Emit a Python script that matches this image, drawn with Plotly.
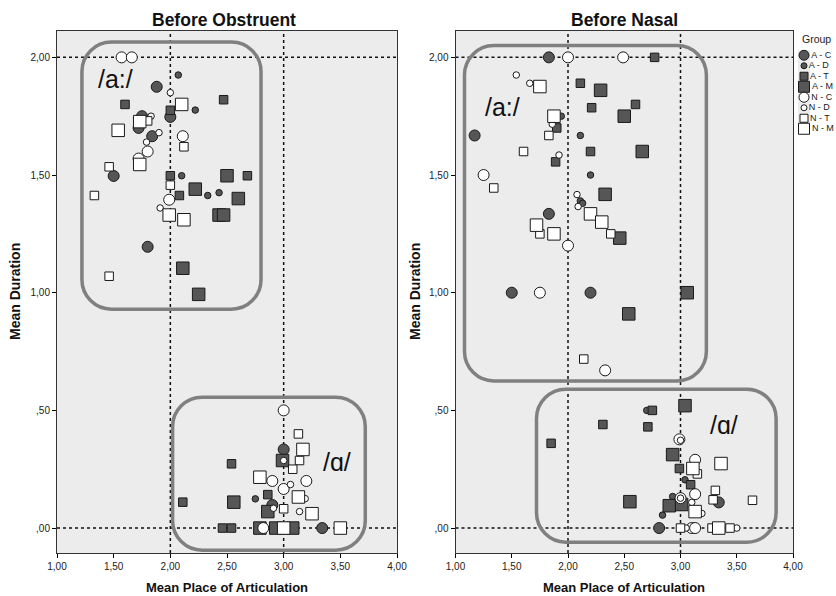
import plotly.graph_objects as go

# ---------------- data ----------------
groups = ["A - C", "A - D", "A - T", "A - M", "N - C", "N - D", "N - T", "N - M"]
x_tick_vals = [1.0, 1.5, 2.0, 2.5, 3.0, 3.5, 4.0]
x_tick_text = ["1,00", "1,50", "2,00", "2,50", "3,00", "3,50", "4,00"]
y_tick_vals = [0.0, 0.5, 1.0, 1.5, 2.0]
y_tick_text = [",00", ",50", "1,00", "1,50", "2,00"]

# Before Obstruent panel
obstruent_group = (
    ["A - C"] * 10 + ["A - D"] * 6 + ["A - T"] * 12 + ["A - M"] * 13
    + ["N - C"] * 11 + ["N - D"] * 10 + ["N - T"] * 10 + ["N - M"] * 12
)
obstruent_x = [
    1.88, 2.00, 1.75, 1.72, 1.84, 1.50, 1.80, 3.00, 2.90, 3.34,
    2.07, 2.22, 2.10, 2.33, 2.43, 2.75,
    1.60, 2.47, 2.00, 2.00, 2.68, 2.08, 2.54, 2.79, 2.11, 2.86, 2.46, 2.54,
    2.50, 2.22, 2.60, 2.43, 2.47, 2.11, 2.25, 2.99, 2.56, 2.86, 2.79, 2.93, 3.08,
    1.57, 1.66, 2.11, 1.80, 1.72, 1.99, 3.00, 2.90, 3.20, 3.00, 2.82,
    2.00, 1.83, 1.90, 1.79, 1.91, 3.00, 3.06, 3.19, 2.91, 3.14,
    1.80, 2.12, 1.46, 2.00, 1.33, 1.46, 3.13, 3.14, 3.08, 3.00,
    2.10, 1.73, 1.54, 1.73, 1.99, 2.12, 3.17, 2.79, 3.13, 3.25, 3.00, 3.50,
]
obstruent_y = [
    1.875, 1.747, 1.75, 1.70, 1.665, 1.496, 1.195, 0.334, 0.098, 0.0,
    1.925, 1.776, 1.497, 1.413, 1.425, 0.124,
    1.80, 1.82, 1.775, 1.497, 1.497, 1.413, 0.273, 0.22, 0.11, 0.142, 0.0, 0.0,
    1.497, 1.44, 1.40, 1.33, 1.33, 1.104, 0.993, 0.287, 0.11, 0.07, 0.0, 0.0, 0.0,
    2.00, 2.00, 1.665, 1.60, 1.57, 1.395, 0.50, 0.20, 0.20, 0.166, 0.0,
    1.85, 1.75, 1.68, 1.64, 1.36, 0.287, 0.185, 0.125, 0.084, 0.07,
    1.73, 1.62, 1.535, 1.457, 1.413, 1.07, 0.40, 0.287, 0.25, 0.082,
    1.80, 1.727, 1.69, 1.545, 1.33, 1.31, 0.334, 0.216, 0.132, 0.061, 0.0, 0.0,
]

# Before Nasal panel
nasal_group = (
    ["A - C"] * 7 + ["A - D"] * 9 + ["A - T"] * 13 + ["A - M"] * 12
    + ["N - C"] * 12 + ["N - D"] * 12 + ["N - T"] * 13 + ["N - M"] * 10
)
nasal_x = [
    1.83, 1.17, 1.83, 1.50, 2.20, 3.34, 2.81,
    1.94, 2.11, 2.20, 2.11, 2.13, 2.70, 3.04, 2.93, 2.84,
    2.77, 2.11, 2.21, 2.60, 1.90, 2.20, 1.89, 2.75, 2.31, 2.71, 1.85, 2.99, 3.09,
    2.29, 2.50, 2.66, 2.33, 2.46, 3.06, 2.54, 3.04, 2.93, 2.55, 2.90, 3.01,
    2.00, 2.49, 1.25, 2.00, 1.75, 2.33, 2.99, 3.13, 3.13, 3.00, 3.10, 3.13,
    1.54, 1.66, 1.86, 1.92, 2.08, 2.09, 3.00, 3.00, 3.10, 3.19, 3.50, 3.05,
    1.83, 1.605, 1.34, 1.75, 2.38, 2.14, 3.15, 3.31, 3.29, 3.64, 3.00, 3.28, 3.44,
    1.75, 1.875, 2.20, 2.30, 1.72, 1.875, 3.36, 3.11, 3.13, 3.34,
]
nasal_y = [
    2.00, 1.668, 1.335, 1.00, 1.00, 0.109, 0.0,
    1.75, 1.668, 1.50, 1.39, 1.38, 0.50, 0.205, 0.134, 0.055,
    2.00, 1.89, 1.786, 1.80, 1.70, 1.60, 1.556, 0.50, 0.44, 0.43, 0.36, 0.253, 0.184,
    1.86, 1.75, 1.60, 1.418, 1.232, 1.00, 0.91, 0.52, 0.312, 0.112, 0.095, 0.10,
    2.00, 2.00, 1.50, 1.20, 1.00, 0.67, 0.377, 0.29, 0.144, 0.127, 0.0, 0.0,
    1.925, 1.89, 1.716, 1.585, 1.417, 1.366, 0.373, 0.127, 0.109, 0.062, 0.0, 0.0,
    1.668, 1.60, 1.445, 1.25, 1.25, 0.718, 0.23, 0.16, 0.12, 0.118, 0.0, 0.0, 0.0,
    1.876, 1.75, 1.335, 1.30, 1.287, 1.25, 0.274, 0.253, 0.07, 0.0,
]

# ---------------- styles ----------------
DARK = "#565656"
styles = {
    "A - C": dict(symbol="circle", size=11, color=DARK),
    "A - D": dict(symbol="circle", size=6.5, color=DARK),
    "A - T": dict(symbol="square", size=8.5, color=DARK),
    "A - M": dict(symbol="square", size=12.5, color=DARK),
    "N - C": dict(symbol="circle", size=11, color="white"),
    "N - D": dict(symbol="circle", size=6.5, color="white"),
    "N - T": dict(symbol="square", size=8.5, color="white"),
    "N - M": dict(symbol="square", size=12.5, color="white"),
}
legend_sizes = {"A - C": 10, "A - D": 6, "A - T": 8, "A - M": 11,
                "N - C": 10, "N - D": 6, "N - T": 8, "N - M": 11}
FONT = "Liberation Sans Narrow, Arial Narrow, Liberation Sans, Arial, sans-serif"
BOLD_FONT = "Liberation Sans, Arial, sans-serif"

fig = go.Figure()

panels = [
    ("x", "y", obstruent_x, obstruent_y, obstruent_group),
    ("x2", "y2", nasal_x, nasal_y, nasal_group),
]
for xa, ya, xs, ys, gs in panels:
    for g in groups:
        px = [x for x, gg in zip(xs, gs) if gg == g]
        py = [y for y, gg in zip(ys, gs) if gg == g]
        st = styles[g]
        fig.add_trace(go.Scatter(
            x=px, y=py, xaxis=xa, yaxis=ya, mode="markers", name=g,
            showlegend=False, cliponaxis=False,
            marker=dict(symbol=st["symbol"], size=st["size"], color=st["color"],
                        line=dict(color="#1a1a1a", width=1)),
        ))

# manual legend (keys on a hidden categorical axis)
for g in groups:
    st = styles[g]
    fig.add_trace(go.Scatter(
        x=["key"], y=[g], xaxis="x3", yaxis="y3", mode="markers+text",
        text=[g], textposition="middle right", showlegend=False, cliponaxis=False,
        textfont=dict(family=FONT, size=9, color="#222"),
        marker=dict(symbol=st["symbol"], size=legend_sizes[g], color=st["color"],
                    line=dict(color="#1a1a1a", width=1)),
        hoverinfo="skip",
    ))

XR = [1, 4]
YR = [-0.106, 2.112]
common_x = dict(range=XR, tickvals=x_tick_vals, ticktext=x_tick_text, ticks="outside",
                ticklen=4, tickcolor="black", showline=True, linecolor="#333", linewidth=1,
                mirror=True, showgrid=False, zeroline=False, automargin=False,
                tickfont=dict(family=FONT, size=10, color="#222"))
common_y = dict(range=YR, tickvals=y_tick_vals, ticktext=y_tick_text, ticks="outside",
                ticklen=4, tickcolor="black", showline=True, linecolor="#333", linewidth=1,
                mirror=True, showgrid=False, zeroline=False, automargin=False,
                tickfont=dict(family=FONT, size=10, color="#222"))

W, H = 836, 596
ydom = [(H - 553) / H, (H - 31) / H]
fig.update_layout(
    width=W, height=H,
    margin=dict(l=0, r=0, t=0, b=0, autoexpand=False),
    paper_bgcolor="white",
    plot_bgcolor="#ececec",
    showlegend=False,
    xaxis=dict(domain=[57 / W, 397 / W], anchor="y", **common_x),
    yaxis=dict(domain=ydom, anchor="x", **common_y),
    xaxis2=dict(domain=[455.5 / W, 793 / W], anchor="y2", **common_x),
    yaxis2=dict(domain=ydom, anchor="x2", **common_y),
    xaxis3=dict(domain=[798 / W, 810 / W], anchor="y3", visible=False,
                range=[-0.5, 0.5], type="category", automargin=False),
    yaxis3=dict(domain=[(H - 134) / H, (H - 50) / H], anchor="x3", visible=False,
                type="category", categoryorder="array", automargin=False,
                categoryarray=list(reversed(groups)), range=[-0.5, 7.5]),
)


def rounded_box(x0, x1, y0, y1, rx, ry):
    k = 0.45
    return (
        f"M {x0 + rx},{y1} L {x1 - rx},{y1} "
        f"C {x1 - rx * k},{y1} {x1},{y1 - ry * k} {x1},{y1 - ry} "
        f"L {x1},{y0 + ry} "
        f"C {x1},{y0 + ry * k} {x1 - rx * k},{y0} {x1 - rx},{y0} "
        f"L {x0 + rx},{y0} "
        f"C {x0 + rx * k},{y0} {x0},{y0 + ry * k} {x0},{y0 + ry} "
        f"L {x0},{y1 - ry} "
        f"C {x0},{y1 - ry * k} {x0 + rx * k},{y1} {x0 + rx},{y1} Z"
    )


shapes = []
for xa, ya in [("x", "y"), ("x2", "y2")]:
    for xv in [2.0, 3.0]:
        shapes.append(dict(type="line", xref=xa, yref=f"{ya} domain", x0=xv, x1=xv, y0=0, y1=1,
                           line=dict(color="#111", width=1.5, dash="dot"), layer="below"))
    for yv in [0.0, 2.0]:
        shapes.append(dict(type="line", xref=f"{xa} domain", yref=ya, x0=0, x1=1, y0=yv, y1=yv,
                           line=dict(color="#111", width=1.5, dash="dot"), layer="below"))

RX, RY = 0.26, 0.125
boxes = [
    ("x", "y", 1.22, 2.80, 0.93, 2.065),
    ("x", "y", 2.02, 3.72, -0.094, 0.556),
    ("x2", "y2", 1.08, 3.23, 0.625, 2.05),
    ("x2", "y2", 1.72, 3.85, -0.06, 0.59),
]
for xa, ya, x0, x1, y0, y1 in boxes:
    shapes.append(dict(type="path", xref=xa, yref=ya, path=rounded_box(x0, x1, y0, y1, RX, RY),
                       line=dict(color="#808080", width=3.5), layer="below"))
fig.update_layout(shapes=shapes)

ann = []
label_font = dict(family="Liberation Sans, Arial, sans-serif", size=25, color="#111")
for xr, yr, xv, yv, t in [("x", "y", 1.52, 1.91, "/a:/"), ("x", "y", 3.47, 0.282, "/ɑ/"),
                          ("x2", "y2", 1.42, 1.787, "/a:/"), ("x2", "y2", 3.39, 0.438, "/ɑ/")]:
    ann.append(dict(xref=xr, yref=yr, x=xv, y=yv, text=t, showarrow=False, font=label_font,
                    xanchor="center", yanchor="middle"))

title_font = dict(family=BOLD_FONT, size=17.5, color="#111")
for cx, t in [(224, "Before Obstruent"), (624, "Before Nasal")]:
    ann.append(dict(xref="paper", yref="paper", x=cx / W, y=(H - 20.5) / H, text=f"<b>{t}</b>",
                    showarrow=False, font=title_font, xanchor="center", yanchor="middle"))
axis_font = dict(family=FONT, size=13, color="#111")
for cx in [227, 624]:
    ann.append(dict(xref="paper", yref="paper", x=cx / W, y=(H - 587) / H,
                    text="<b>Mean Place of Articulation</b>", showarrow=False, font=axis_font,
                    xanchor="center", yanchor="middle"))
for cx in [15, 415]:
    ann.append(dict(xref="paper", yref="paper", x=cx / W, y=(H - 292) / H,
                    text="<b>Mean Duration</b>", textangle=-90, showarrow=False,
                    font=dict(family=FONT, size=14, color="#111"),
                    xanchor="center", yanchor="middle"))
ann.append(dict(xref="paper", yref="paper", x=816 / W, y=(H - 39) / H, text="Group",
                showarrow=False, font=dict(family=FONT, size=10.5, color="#222"),
                xanchor="center", yanchor="middle"))
fig.update_layout(annotations=ann)

fig.write_html("out.html", config={"displayModeBar": False},
               post_script="document.body.style.margin='0';")
